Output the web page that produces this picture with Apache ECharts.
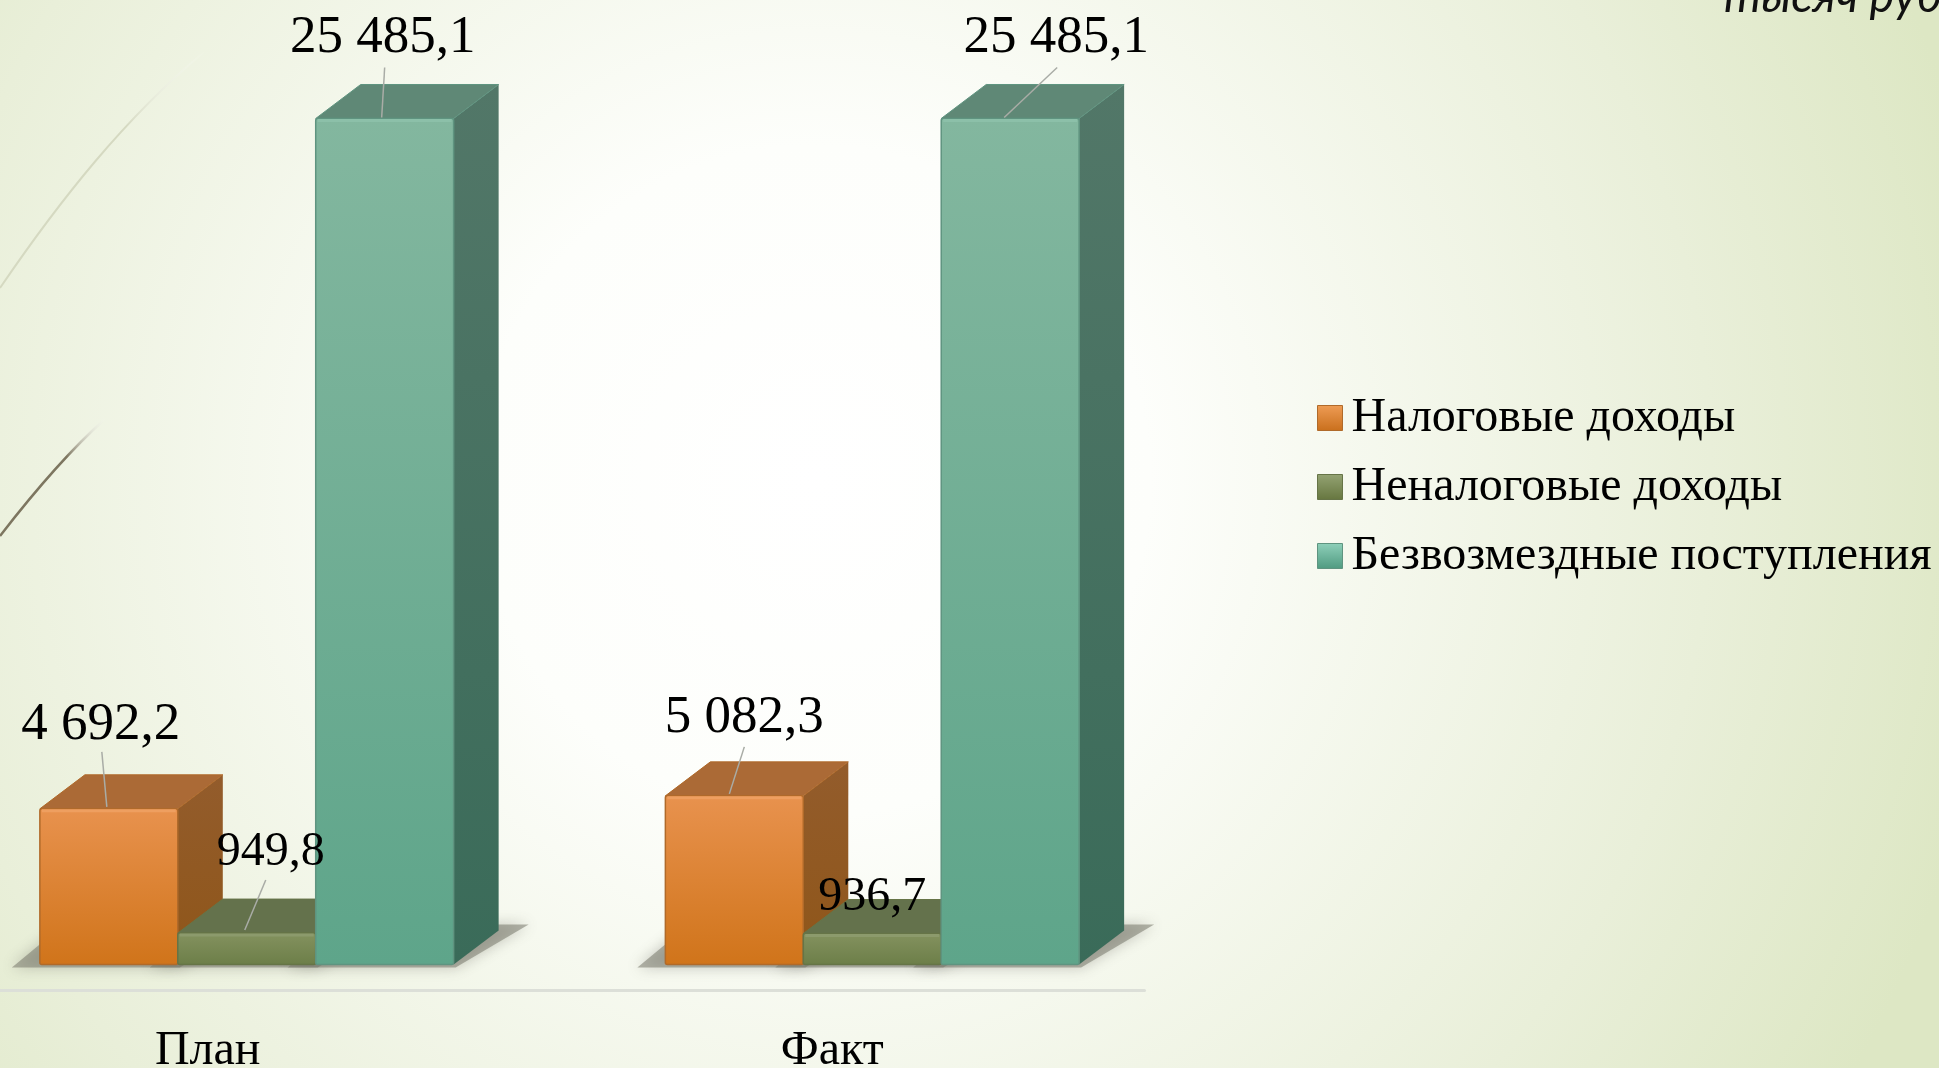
<!DOCTYPE html>
<html>
<head>
<meta charset="utf-8">
<title>Доходы</title>
<style>
  html, body { margin: 0; padding: 0; width: 100%; height: 100%; overflow: hidden; }
  #main { width: 1939px; height: 1068px; }
</style>
<script src="https://cdn.jsdelivr.net/npm/echarts@6/dist/echarts.min.js"></script>
</head>
<body>
<div id="main"></div>
<script>
// данные
const categories = ["План", "Факт"];
const seriesNames = ["Налоговые доходы", "Неналоговые доходы", "Безвозмездные поступления"];
const taxIncome = [4692.2, 5082.3];
const nonTaxIncome = [949.8, 936.7];
const freeIncome = [25485.1, 25485.1];
const unitText = "тысяч рублей";

const FONT = '"Liberation Serif", "Times New Roman", serif';
const DEPTH_X = 45;
const DEPTH_Y = 34;
const BAR_RATIO = 0.2205;

const palettes = [
  { front: ["#e8924e", "#d0741a"], top: "#ab6a36", side: ["#935c2c", "#8f5619"], edge: "#b06a2a", shine: "#ee9f60", legend: ["#ee9c55", "#c96f1c"] },
  { front: ["#84925f", "#6c7e48"], top: "#64724c", side: ["#5f6d46", "#5a6840"], edge: "#667447", shine: "#8c9a6c", legend: ["#94a373", "#66763f"] },
  { front: ["#83b79f", "#5ea58a"], top: "#5f8876", side: ["#527768", "#3a6b59"], edge: "#5f9480", shine: "#8cc0a9", legend: ["#8fd0ba", "#4f9a80"] }
];

// подписи: смещения от середины верха столбца [подпись, начало выноски, конец выноски], размер шрифта
const labelLayout = [
  [{ size: 53, text: [-8, -84], from: [-7, -57], to: [-2, -2] }, { size: 53, text: [10, -78], from: [10, -49], to: [-5, -2] }],
  [{ size: 48, text: [24, -81], from: [19, -53], to: [-2, -3] }, { size: 48, text: [0, -36] }],
  [{ size: 53, text: [-2, -80], from: [0, -51], to: [-3, -1] }, { size: 53, text: [46, -80], from: [47, -51], to: [-6, -1] }]
];

function formatValue(v) {
  const parts = v.toFixed(1).split(".");
  return parts[0].replace(/\B(?=(\d{3})+$)/g, " ") + "," + parts[1];
}

function vertical(c) {
  return new echarts.graphic.LinearGradient(0, 0, 0, 1, [
    { offset: 0, color: c[0] },
    { offset: 1, color: c[1] }
  ]);
}

// волосок на фоне, к острому концу сходит на нет
function fade(color) {
  return new echarts.graphic.LinearGradient(1, 0, 0, 1, [
    { offset: 0, color: "rgba(255,255,255,0)" },
    { offset: 0.35, color: color },
    { offset: 1, color: color }
  ]);
}

// столбец-параллелепипед, позиция идет через оси
function cuboid(seriesIndex) {
  return function (params, api) {
    const idx = api.value(0);
    const val = api.value(1);
    const topPt = api.coord([idx, val]);
    const basePt = api.coord([idx, 0]);
    const w = api.size([1, 0])[0] * BAR_RATIO;
    const x0 = topPt[0] + (seriesIndex - 1.5) * w;
    const x1 = x0 + w;
    const top = topPt[1];
    const base = basePt[1];
    const mid = (x0 + x1) / 2;
    const p = palettes[seriesIndex];
    const children = [];

    // тень на полу
    children.push({
      type: "polygon",
      z2: 1,
      shape: { points: [[x0 - 28, base + 3], [x1 + 2, base + 3], [x1 + 75, base - 40], [x0 + 24, base - 40]] },
      style: { fill: "rgba(120,120,108,0.55)", shadowBlur: 14, shadowColor: "rgba(90,90,80,0.6)" }
    });
    children.push({
      type: "polygon",
      z2: 10 + seriesIndex,
      shape: { points: [[x1, top], [x1 + DEPTH_X, top - DEPTH_Y], [x1 + DEPTH_X, base - DEPTH_Y], [x1, base]] },
      style: { fill: vertical(p.side) }
    });
    children.push({
      type: "polygon",
      z2: 10 + seriesIndex,
      shape: { points: [[x0, top], [x0 + DEPTH_X, top - DEPTH_Y], [x1 + DEPTH_X, top - DEPTH_Y], [x1, top]] },
      style: { fill: p.top, stroke: p.edge, lineWidth: 1 }
    });
    children.push({
      type: "rect",
      z2: 11 + seriesIndex,
      shape: { x: x0, y: top, width: w, height: base - top, r: 2 },
      style: { fill: vertical(p.front), stroke: p.edge, lineWidth: 1.5 }
    });
    children.push({
      type: "line",
      z2: 12 + seriesIndex,
      shape: { x1: x0 + 2, y1: top + 2, x2: x1 - 2, y2: top + 2 },
      style: { stroke: p.shine, lineWidth: 3 }
    });

    const layout = labelLayout[seriesIndex][idx];
    if (layout.from) {
      children.push({
        type: "line",
        z2: 30,
        shape: { x1: mid + layout.from[0], y1: top + layout.from[1], x2: mid + layout.to[0], y2: top + layout.to[1] },
        style: { stroke: "#a9aca6", lineWidth: 1.5 }
      });
    }
    children.push({
      type: "text",
      z2: 40,
      style: {
        x: mid + layout.text[0],
        y: top + layout.text[1],
        text: formatValue(val),
        font: layout.size + "px " + FONT,
        fill: "#000000",
        align: "center",
        verticalAlign: "middle"
      }
    });
    return { type: "group", children: children };
  };
}

function buildSeries(values, i) {
  return {
    name: seriesNames[i],
    type: "custom",
    xAxisIndex: 0,
    yAxisIndex: 0,
    clip: false,
    itemStyle: { color: palettes[i].front[1] },
    encode: { x: 0, y: 1 },
    data: values.map(function (v, k) { return [k, v]; }),
    renderItem: cuboid(i)
  };
}

const chart = echarts.init(document.getElementById("main"));

const option = {
  animation: false,
  backgroundColor: new echarts.graphic.RadialGradient(0.42, 0.45, 1.12, [
    { offset: 0, color: "#ffffff" },
    { offset: 0.28, color: "#fdfefb" },
    { offset: 0.75, color: "#e9efd9" },
    { offset: 1, color: "#dde7c4" }
  ]),
  grid: [
    { left: -66, top: 35, width: 1251, height: 929.6, outerBoundsMode: "none" },
    { left: -104.5, top: 900, width: 1249, height: 90.5, outerBoundsMode: "none" }
  ],
  xAxis: [
    { gridIndex: 0, type: "category", data: categories, show: false },
    {
      gridIndex: 1,
      type: "category",
      data: categories,
      axisTick: { show: false },
      axisLine: { lineStyle: { color: "#dcdfd8", width: 3 } },
      axisLabel: { color: "#000000", fontFamily: FONT, fontSize: 48, margin: 37, interval: 0 }
    }
  ],
  yAxis: [
    { gridIndex: 0, type: "value", min: 0, max: 28000, show: false },
    { gridIndex: 1, type: "value", min: 0, max: 1, show: false }
  ],
  legend: {
    left: 1312,
    top: 388,
    orient: "vertical",
    selectedMode: false,
    itemWidth: 25,
    itemHeight: 25,
    itemGap: 19,
    textStyle: { color: "#000000", fontFamily: FONT, fontSize: 48, lineHeight: 50, padding: [0, 0, 0, 4] },
    data: seriesNames.map(function (name, i) {
      return {
        name: name,
        icon: "rect",
        itemStyle: { color: vertical(palettes[i].legend), borderColor: palettes[i].edge, borderWidth: 1 }
      };
    })
  },
  graphic: [
    {
      type: "bezierCurve",
      silent: true,
      shape: { x1: 204, y1: 52, cpx1: 125, cpy1: 118, cpx2: 60, cpy2: 200, x2: 0, y2: 288 },
      style: { fill: "none", stroke: fade("#d5d9c1"), lineWidth: 2 }
    },
    {
      type: "bezierCurve",
      silent: true,
      shape: { x1: 105, y1: 419, cpx1: 68, cpy1: 452, cpx2: 34, cpy2: 492, x2: 0, y2: 536 },
      style: { fill: "none", stroke: fade("#7d7660"), lineWidth: 2.5 }
    },
    {
      type: "text",
      silent: true,
      style: {
        x: 1724,
        y: 20,
        text: unitText,
        font: 'italic 47px Lato, "Open Sans", sans-serif',
        fill: "#111111",
        align: "left",
        verticalAlign: "bottom",
        shadowBlur: 3,
        shadowColor: "rgba(0,0,0,0.45)",
        shadowOffsetX: 2,
        shadowOffsetY: 2
      }
    }
  ],
  series: [taxIncome, nonTaxIncome, freeIncome].map(buildSeries)
};

chart.setOption(option);
window.addEventListener("resize", function () {
  chart.resize();
});
</script>
</body>
</html>
